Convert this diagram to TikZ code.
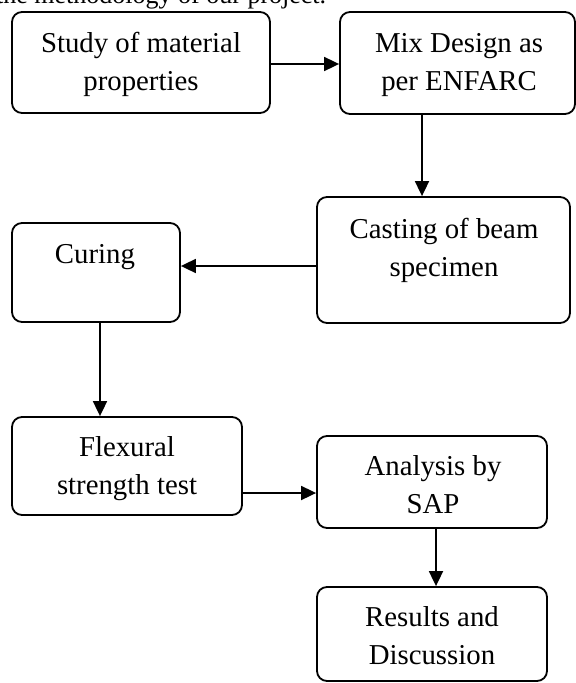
\documentclass[tikz,border=0pt]{standalone}
\usepackage{fontspec}
\setmainfont{Liberation Serif}
\usetikzlibrary{arrows.meta,calc}
\begin{document}
\begin{tikzpicture}[x=1bp,y=-1bp,
  box/.style={draw, line width=1.8bp, rounded corners=10bp, inner sep=0pt},
  txt/.style={font=\fontsize{28.8bp}{38bp}\selectfont, align=center, inner sep=0pt},
  arr/.style={line width=1.8bp, -{Triangle[length=15bp,width=14bp]}}]
\useasboundingbox (0,0) rectangle (576,683);
% boxes (given by corners)
\node[box, minimum width=258bp, minimum height=101bp] (b1) at (141,62.5) {};
\node[box, minimum width=235bp, minimum height=102bp] (b2) at (457.5,63) {};
\node[box, minimum width=253bp, minimum height=126bp] (b3) at (443.5,260) {};
\node[box, minimum width=168bp, minimum height=99bp] (b4) at (96,272.5) {};
\node[box, minimum width=230bp, minimum height=98bp] (b5) at (127,466) {};
\node[box, minimum width=230bp, minimum height=92bp] (b6) at (432,482) {};
\node[box, minimum width=230bp, minimum height=94bp] (b7) at (432,634) {};
% texts
\node[font=\fontsize{26bp}{30bp}\selectfont, inner sep=0pt, anchor=base west] (title) at (-4,4) {the methodology of our project.};
\node[txt] (t1) at (141,64) {Study of material\\properties};
\node[txt] (t2) at (459,65) {Mix Design as\\per ENFARC};
\node[txt] (t3) at (444,250) {Casting of beam\\specimen};
\node[txt] (t4) at (95,257.5) {Curing};
\node[txt] (t5) at (127,469) {Flexural\\strength test};
\node[txt] (t6) at (433,485) {Analysis by\\SAP};
\node[txt] (t7) at (432,636) {Results and\\Discussion};
% connector guides
\coordinate (g1) at (0,64);
\coordinate (g2) at (422,0);
\coordinate (g3) at (0,266);
\coordinate (g4) at (100,0);
\coordinate (g5) at (0,493);
\coordinate (g6) at (436,0);
% connectors
\draw[arr] (b1.east |- g1) -- (b2.west |- g1);
\draw[arr] (b2.south -| g2) -- (b3.north -| g2);
\draw[arr] (b3.west |- g3) -- (b4.east |- g3);
\draw[arr] (b4.south -| g4) -- (b5.north -| g4);
\draw[arr] (b5.east |- g5) -- (b6.west |- g5);
\draw[arr] (b6.south -| g6) -- (b7.north -| g6);
\end{tikzpicture}
\end{document}
